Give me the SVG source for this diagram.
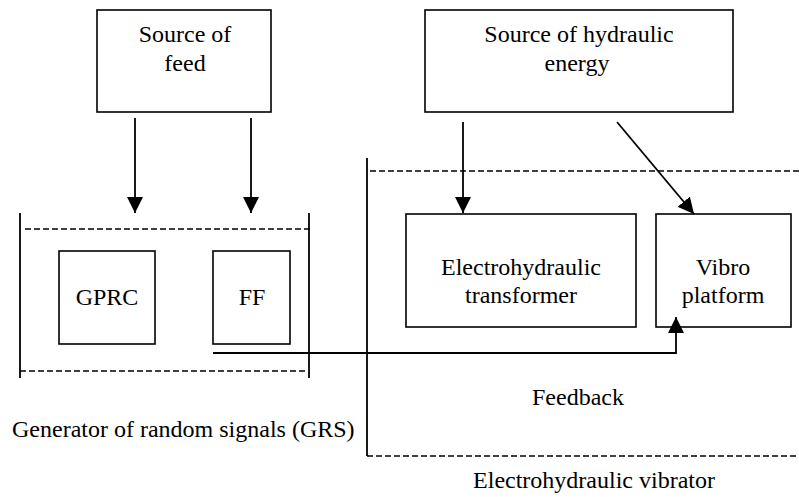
<svg xmlns="http://www.w3.org/2000/svg" width="799" height="497" viewBox="0 0 799 497">
  <defs>
    <style>
      .box { fill: #fff; stroke: #000; stroke-width: 1.6; }
      .line { fill: none; stroke: #000; stroke-width: 1.8; }
      .dash { fill: none; stroke: #000; stroke-width: 1.6; stroke-dasharray: 6 3; }
      .lbl { font-family: 'Liberation Serif', 'Times New Roman', 'DejaVu Serif', serif; font-size: 24px; fill: #000; }
      .c { text-anchor: middle; }
    </style>
    <marker id="arrow" viewBox="0 0 16 16" refX="16" refY="8" markerWidth="16" markerHeight="16" markerUnits="userSpaceOnUse" orient="auto">
      <path d="M0,0 L16,8 L0,16 Z" fill="#000"/>
    </marker>
  </defs>
  <rect width="799" height="497" fill="#fff"/>

  <!-- enclosures -->
  <g id="grs-frame">
    <line class="line" x1="20" y1="213" x2="20" y2="378"/>
    <line class="line" x1="309" y1="213" x2="309" y2="378"/>
    <line class="dash" x1="25" y1="229" x2="310" y2="229"/>
    <line class="dash" x1="20" y1="371" x2="305" y2="371"/>
    <text class="lbl" font-family="Liberation Serif, Times New Roman, DejaVu Serif, serif" x="12" y="437">Generator of random signals (GRS)</text>
  </g>
  <g id="vibrator-frame">
    <line class="line" x1="367" y1="158" x2="367" y2="456"/>
    <line class="dash" x1="370" y1="171" x2="799" y2="171"/>
    <line class="dash" x1="367" y1="456" x2="799" y2="456"/>
    <text class="lbl c" x="594" y="488">Electrohydraulic vibrator</text>
  </g>

  <!-- nodes -->
  <g id="source-feed">
    <rect class="box" x="97" y="10" width="174" height="102"/>
    <text class="lbl c" x="185" y="42">Source of</text>
    <text class="lbl c" x="185" y="71">feed</text>
  </g>
  <g id="source-hydraulic">
    <rect class="box" x="425" y="10" width="308" height="102"/>
    <text class="lbl c" x="579" y="42">Source of hydraulic</text>
    <text class="lbl c" x="577" y="71">energy</text>
  </g>
  <g id="gprc">
    <rect class="box" x="59" y="251" width="96" height="93"/>
    <text class="lbl c" x="107" y="305">GPRC</text>
  </g>
  <g id="ff">
    <rect class="box" x="213" y="251" width="77" height="93"/>
    <text class="lbl c" x="252" y="305">FF</text>
  </g>
  <g id="eh-transformer">
    <rect class="box" x="406" y="214" width="230" height="113"/>
    <text class="lbl c" x="521" y="275">Electrohydraulic</text>
    <text class="lbl c" x="521" y="303">transformer</text>
  </g>
  <g id="vibro-platform">
    <rect class="box" x="656" y="214" width="135" height="113"/>
    <text class="lbl c" x="723" y="275">Vibro</text>
    <text class="lbl c" x="723" y="303">platform</text>
  </g>

  <!-- connectors -->
  <g id="connectors">
    <line class="line" x1="135" y1="118" x2="135" y2="213" marker-end="url(#arrow)"/>
    <line class="line" x1="251" y1="118" x2="251" y2="213" marker-end="url(#arrow)"/>
    <line class="line" x1="463" y1="122" x2="463" y2="213" marker-end="url(#arrow)"/>
    <line class="line" x1="617" y1="122" x2="694" y2="214" marker-end="url(#arrow)"/>
    <polyline class="line" points="213,353 676,353 676,317" marker-end="url(#arrow)"/>
    <text class="lbl c" x="578" y="405">Feedback</text>
  </g>
</svg>
